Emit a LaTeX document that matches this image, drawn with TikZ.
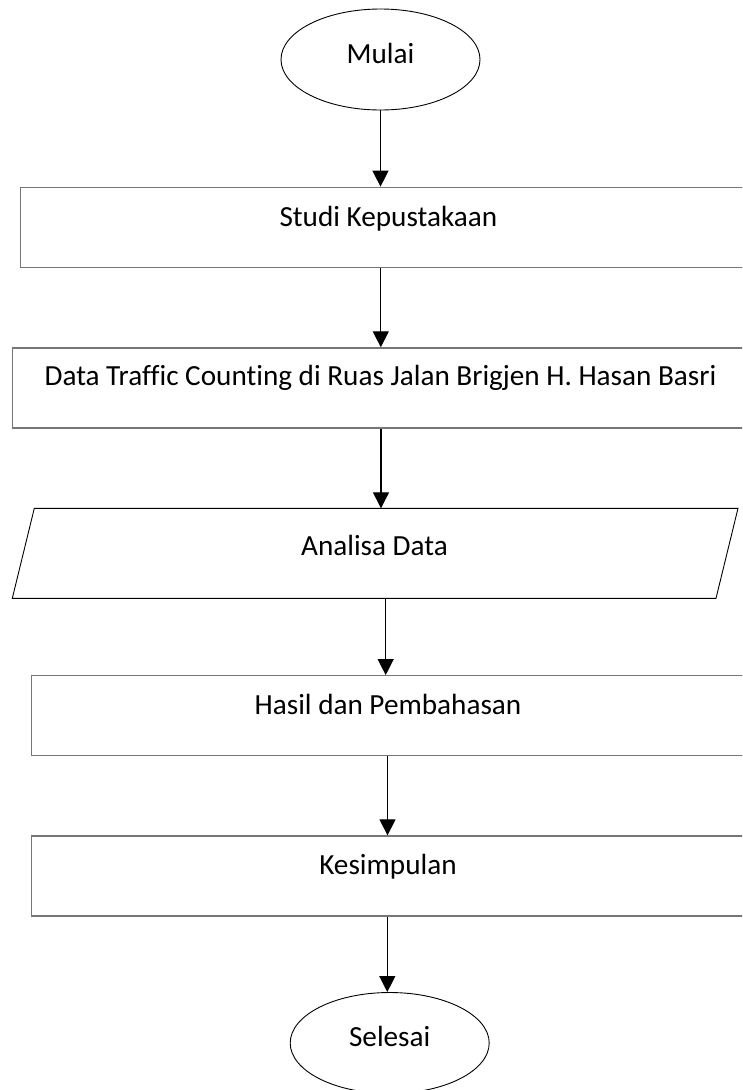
\documentclass[tikz,border=0pt]{standalone}
\usepackage{fontspec}
\setmainfont[Ligatures={NoCommon}]{Carlito}
\usetikzlibrary{arrows.meta,shapes.geometric}
\definecolor{boxgray}{RGB}{118,118,118}
\begin{document}
\begin{tikzpicture}[x=1pt,y=-1pt,
  every node/.style={font=\fontsize{29.2}{34}\selectfont},
  terminal/.style={ellipse,draw=black,line width=0.9pt,inner sep=0pt,
    minimum width=199pt,minimum height=101pt,text height=18pt,text depth=10.5pt},
  procbox/.style={rectangle,draw=boxgray,line width=1.3pt,inner sep=0pt,
    minimum height=80pt,text height=38.5pt,text depth=41.5pt},
  txt/.style={inner sep=0pt,text height=18pt,text depth=0pt,anchor=base},
  arr/.style={draw=black,line width=1.2pt,-{Triangle[width=16pt,length=16pt]}}]
\useasboundingbox (0,0) rectangle (742,1090);
\clip (0,0) rectangle (742,1090);
% nodes
\node[terminal] (mulai) at (380.5,59.5) {Mulai};
\node[procbox,minimum width=735.3pt,text height=39.5pt,text depth=40.9pt] (studi) at (388.35,227.5) {Studi Kepustakaan};
\node[procbox,minimum width=736.4pt,text height=37.2pt,text depth=42pt] (data) at (380.5,387.9) {Data Traffic Counting di Ruas Jalan Brigjen H. Hasan Basri};
\draw[black,line width=0.9pt] (34.3,508.3) -- (738,508.3) -- (716,598.3) -- (12.3,598.3) -- cycle;
\node[txt] (ana) at (374.5,555) {Analisa Data};
\node[procbox,minimum width=712.6pt] (hasil) at (388,715.7) {Hasil dan Pembahasan};
\node[procbox,minimum width=712.6pt] (kes) at (388,876) {Kesimpulan};
\node[terminal] (selesai) at (389.7,1043) {Selesai};
% coordinates for connector ends
\coordinate (anaT) at (381,508.3);
\coordinate (anaB) at (385.7,598.3);
\coordinate (c1) at (380.8,0);
\coordinate (c3) at (387.5,0);
\coordinate (c4) at (387.3,0);
% connectors
\draw[arr] (mulai.south) -- (mulai.south |- studi.north);
\draw[arr] (c1 |- studi.south) -- (c1 |- data.north);
\draw[arr] (anaT |- data.south) -- (anaT);
\draw[arr] (anaB) -- (anaB |- hasil.north);
\draw[arr] (c3 |- hasil.south) -- (c3 |- kes.north);
\draw[arr] (c4 |- kes.south) -- (c4 |- selesai.north);
\end{tikzpicture}
\end{document}
